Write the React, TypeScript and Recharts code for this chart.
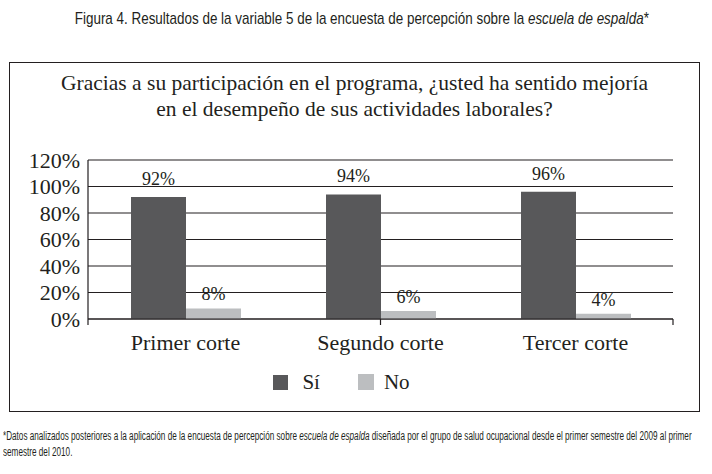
import React from 'react';
import { BarChart, Bar, XAxis, YAxis, CartesianGrid, Legend, LabelList } from 'recharts';

const categories = ['Primer corte', 'Segundo corte', 'Tercer corte'];
const siValues = [92, 94, 96];
const noValues = [8, 6, 4];
const yTicks = [0, 20, 40, 60, 80, 100, 120];
const edgeTicks = [0, 1, 2, 3];

const INK = '#231f20';
const DARK = '#58585a';
const LIGHT = '#bcbec0';
const SERIF = '"Liberation Serif", "Times New Roman", serif';
const SANS = '"Liberation Sans", "DejaVu Sans", sans-serif';

const data = categories.map((name, i) => ({ name, si: siValues[i], no: noValues[i] }));

const LegendBox = () => (
  <div style={{ height: 40, paddingTop: 10, boxSizing: 'border-box', display: 'flex', justifyContent: 'center', alignItems: 'center', fontFamily: SERIF, fontSize: 21, color: INK }}>
    <span style={{ display: 'inline-block', width: 15, height: 15, background: DARK, marginRight: 14 }} />
    <span style={{ marginRight: 38 }}>Sí</span>
    <span style={{ display: 'inline-block', width: 16, height: 16, background: LIGHT, marginRight: 10 }} />
    <span>No</span>
  </div>
);

// condensed sans text: no narrow face installed, so squeeze horizontally
const Squeezed: React.FC<{ scale: number; children: React.ReactNode; origin?: string }> = ({ scale, children, origin = 'left' }) => (
  <div style={{ whiteSpace: 'nowrap', transform: `scaleX(${scale})`, transformOrigin: origin }}>{children}</div>
);

const App: React.FC = () => {
  return (
    <div style={{ position: 'absolute', left: 0, top: 0, width: 712, height: 474, background: '#fff', color: INK, overflow: 'hidden' }}>
      <div style={{ position: 'absolute', top: 8, left: 0, width: 712, textAlign: 'center', fontFamily: SANS, fontSize: 17, lineHeight: '22px' }}>
        <Squeezed scale={0.79} origin="center">
          Figura 4. Resultados de la variable 5 de la encuesta de percepción sobre la <i>escuela de espalda</i>*
        </Squeezed>
      </div>

      <div style={{ position: 'absolute', left: 9, top: 62, width: 691, height: 350, border: `1.5px solid ${INK}`, boxSizing: 'border-box' }} />

      <div style={{ position: 'absolute', left: 9, top: 70, width: 691, textAlign: 'center', fontFamily: SERIF, fontSize: 21.5, lineHeight: '26px' }}>
        Gracias a su participación en el programa, ¿usted ha sentido mejoría
        <br />
        en el desempeño de sus actividades laborales?
      </div>

      <div style={{ position: 'absolute', left: 0, top: 0 }}>
        <BarChart
          width={712}
          height={474}
          data={data}
          margin={{ top: 160, right: 39, left: 10, bottom: 77 }}
          barGap={0}
        >
          <CartesianGrid vertical={false} xAxisId="b_cat" stroke={INK} strokeWidth={1.2} />
          {/* tick marks sit between the categories, so a numeric axis draws them */}
          <XAxis
            xAxisId="a_edges"
            type="number"
            domain={[0, 3]}
            ticks={edgeTicks}
            tickFormatter={() => ''}
            height={8}
            tickSize={6}
            axisLine={{ stroke: INK, strokeWidth: 1.2 }}
            tickLine={{ stroke: INK, strokeWidth: 1.2 }}
          />
          <XAxis
            xAxisId="b_cat"
            dataKey="name"
            height={30}
            axisLine={false}
            tickLine={false}
            tickSize={0}
            tickMargin={7}
            tick={{ fill: INK, fontFamily: SERIF, fontSize: 22 }}
          />
          <YAxis
            width={78}
            domain={[0, 120]}
            ticks={yTicks}
            interval={0}
            tickFormatter={(v: number) => `${v}%`}
            axisLine={{ stroke: INK, strokeWidth: 1.2 }}
            tickLine={false}
            tick={{ fill: INK, fontFamily: SERIF, fontSize: 22 }}
          />
          <Legend verticalAlign="bottom" content={() => <LegendBox />} />
          <Bar xAxisId="b_cat" dataKey="si" name="Sí" fill={DARK} barSize={55} isAnimationActive={false}>
            <LabelList dataKey="si" position="top" offset={12} formatter={(v: any) => `${v}%`} style={{ fill: INK, fontFamily: SERIF, fontSize: 18 }} />
          </Bar>
          <Bar xAxisId="b_cat" dataKey="no" name="No" fill={LIGHT} barSize={55} isAnimationActive={false}>
            <LabelList dataKey="no" position="top" offset={8} formatter={(v: any) => `${v}%`} style={{ fill: INK, fontFamily: SERIF, fontSize: 18 }} />
          </Bar>
        </BarChart>
      </div>

      <div style={{ position: 'absolute', left: 3, top: 428, fontFamily: SANS, fontSize: 12, lineHeight: '16px' }}>
        <Squeezed scale={0.68}>
          *Datos analizados posteriores a la aplicación de la encuesta de percepción sobre <i>escuela de espalda</i> diseñada por el grupo de salud ocupacional desde el primer semestre del 2009 al primer
        </Squeezed>
        <Squeezed scale={0.68}>semestre del 2010.</Squeezed>
      </div>
    </div>
  );
};

export default App;
